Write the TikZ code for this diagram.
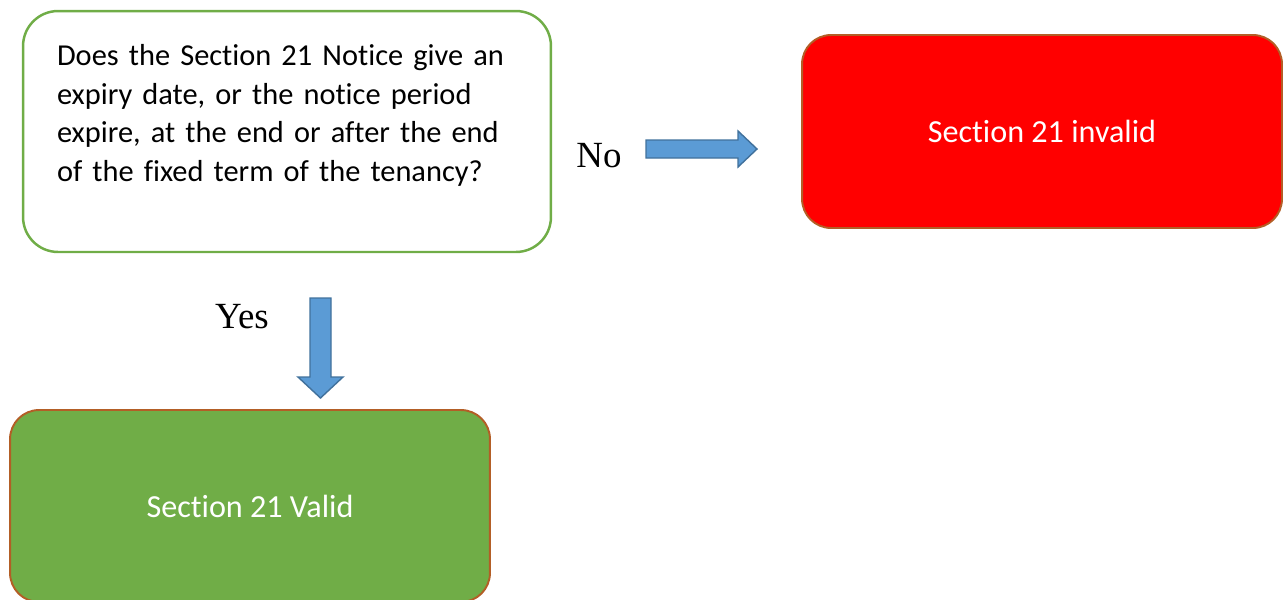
\documentclass[tikz,border=0pt]{standalone}
\usepackage{fontspec}
\setmainfont{Carlito}[Ligatures=NoCommon]
\newfontfamily\answerfont{Liberation Serif}
\usetikzlibrary{positioning}

\definecolor{qgreen}{HTML}{70AD47}
\definecolor{okgreen}{HTML}{70AD47}
\definecolor{badred}{HTML}{FF0000}
\definecolor{rimbrown}{HTML}{B35E26}
\definecolor{arrowblue}{HTML}{5B9BD5}
\definecolor{arrowrim}{HTML}{41719C}

\tikzset{
  question/.style={draw=qgreen, line width=1.4pt, fill=white, rounded corners=0.7cm,
    minimum width=10.56cm, minimum height=4.82cm, text width=9.2cm, align=left,
    text depth=87pt, font=\fontsize{17.3}{22}\selectfont},
  verdict/.style={draw=rimbrown, line width=1.1pt, rounded corners=0.58cm,
    minimum width=9.6cm, text=white, font=\fontsize{18.3}{22}\selectfont},
  blockarrow/.style={draw=arrowrim, fill=arrowblue, line width=0.8pt, line join=miter},
  answer/.style={font=\answerfont\fontsize{21}{24}\selectfont}
}

\begin{document}
\begin{tikzpicture}[x=0.02cm,y=-0.02cm]
	\useasboundingbox (0,0) rectangle (1283,599);
	
	% The question
	\node[question] (ask) at (287,131.5)
	{Does the Section 21 Notice give an\\
	 expiry date, or the notice period\\
	 expire, at the end or after the end\\
	 of the fixed term of the tenancy?};
	
	% The two outcomes
	\node[verdict, fill=badred, minimum height=3.86cm] (invalid) at (1042,131.5) {Section 21 invalid};
	\node[verdict, fill=okgreen, minimum height=3.84cm] (valid) at (250,506) {Section 21 Valid};
	
	% No arrow
	\draw[blockarrow] (646,140) -- (738,140) -- (738,131) -- (757,149)
	-- (738,167) -- (738,158) -- (646,158) -- cycle;
	\node[answer] (no) at (599,156) {No};
	
	% Yes arrow
	\draw[blockarrow] (310,298) -- (331,298) -- (331,377) -- (343,377)
	-- (320.5,398) -- (298,377) -- (310,377) -- cycle;
	\node[answer] (yes) at (242,317) {Yes};
	
\end{tikzpicture}
\end{document}
